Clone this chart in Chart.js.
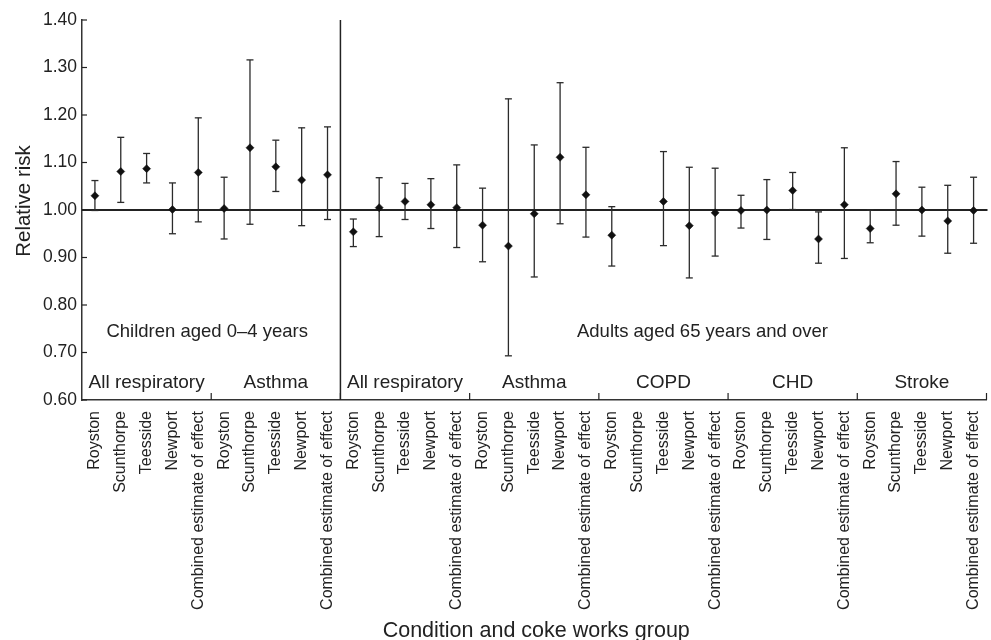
<!DOCTYPE html>
<html><head><meta charset="utf-8">
<script src="https://cdn.jsdelivr.net/npm/chart.js@4"></script>
<style>html,body{margin:0;padding:0;background:#fff}</style>
</head><body>
<canvas id="c" width="991" height="640"></canvas>
<script>
// ---- data ----
const sites = ['Royston', 'Scunthorpe', 'Teesside', 'Newport', 'Combined estimate of effect'];
const groups = ['All respiratory', 'Asthma', 'All respiratory', 'Asthma', 'COPD', 'CHD', 'Stroke'];
const populations = ['Children aged 0\u20134 years', 'Adults aged 65 years and over'];
const populationGroupCounts = [2, 5];
const yTicks = [0.60, 0.70, 0.80, 0.90, 1.00, 1.10, 1.20, 1.30, 1.40];
const refValue = 1.00;

const relativeRisk = [
  1.030, 1.081, 1.087, 1.001, 1.079,
  1.003, 1.131, 1.091, 1.063, 1.074,
  0.954, 1.005, 1.018, 1.011, 1.005,
  0.968, 0.924, 0.992, 1.111, 1.032,
  0.947, null, 1.018, 0.967, 0.994,
  0.999, 1.000, 1.041, 0.939, 1.011,
  0.961, 1.034, 1.000, 0.977, 0.999
];
const lowerCI = [
  0.999, 1.016, 1.057, 0.950, 0.975,
  0.939, 0.970, 1.039, 0.967, 0.980,
  0.923, 0.944, 0.980, 0.961, 0.921,
  0.891, 0.693, 0.859, 0.971, 0.943,
  0.882, null, 0.925, 0.857, 0.903,
  0.962, 0.938, 1.001, 0.888, 0.898,
  0.931, 0.968, 0.945, 0.909, 0.930
];
const upperCI = [
  1.062, 1.153, 1.119, 1.057, 1.194,
  1.069, 1.316, 1.147, 1.173, 1.175,
  0.981, 1.068, 1.056, 1.066, 1.095,
  1.046, 1.234, 1.137, 1.268, 1.132,
  1.007, null, 1.123, 1.090, 1.088,
  1.031, 1.064, 1.079, 0.996, 1.131,
  1.000, 1.102, 1.048, 1.052, 1.069
];

const FONT = '"Liberation Sans", Arial, Helvetica, sans-serif';
const INK = '#222';
const labels = [];
groups.forEach(() => sites.forEach(s => labels.push(s)));

function seg(ctx, x1, y1, x2, y2) { ctx.beginPath(); ctx.moveTo(x1, y1); ctx.lineTo(x2, y2); ctx.stroke(); }

const deco = {
  id: 'deco',
  beforeDatasetsDraw(chart) {
    const { ctx, chartArea: a, scales: { x, y } } = chart;
    const step = x.getPixelForValue(1) - x.getPixelForValue(0);
    ctx.save();
    ctx.strokeStyle = INK;
    // reference line at 1.00
    ctx.lineWidth = 2;
    const yr = y.getPixelForValue(refValue);
    seg(ctx, a.left, yr, a.right + 1, yr);
    // divider between populations
    ctx.lineWidth = 1.5;
    const nFirst = populationGroupCounts[0] * sites.length;
    const xd = x.getPixelForValue(nFirst - 1) + step / 2;
    seg(ctx, xd, a.top, xd, a.bottom);
    // y ticks (inside)
    ctx.lineWidth = 1.2;
    yTicks.forEach(v => { const py = y.getPixelForValue(v); seg(ctx, a.left, py, a.left + 5, py); });
    // group separator ticks
    for (let g = 1; g <= groups.length; g++) {
      const xb = x.getPixelForValue(g * sites.length - 1) + step / 2;
      seg(ctx, xb, a.bottom, xb, a.bottom - 7);
    }
    // error bars
    ctx.lineWidth = 1.3;
    ctx.strokeStyle = '#2b2b2b';
    for (let i = 0; i < labels.length; i++) {
      if (lowerCI[i] == null || upperCI[i] == null) continue;
      const px = x.getPixelForValue(i);
      const pl = y.getPixelForValue(lowerCI[i]);
      const pu = y.getPixelForValue(upperCI[i]);
      seg(ctx, px, pl, px, pu);
      seg(ctx, px - 3.5, pl, px + 3.5, pl);
      seg(ctx, px - 3.5, pu, px + 3.5, pu);
    }
    ctx.restore();
  },
  afterDraw(chart) {
    const { ctx, chartArea: a, scales: { x } } = chart;
    const step = x.getPixelForValue(1) - x.getPixelForValue(0);
    ctx.save();
    ctx.fillStyle = INK;
    ctx.textAlign = 'center';
    ctx.textBaseline = 'middle';
    ctx.font = '19px ' + FONT;
    groups.forEach((g, k) => {
      const cx = (x.getPixelForValue(k * sites.length) + x.getPixelForValue(k * sites.length + sites.length - 1)) / 2;
      ctx.fillText(g, cx, a.bottom - 17);
    });
    ctx.font = '18.5px ' + FONT;
    const nFirst = populationGroupCounts[0] * sites.length;
    const xd = x.getPixelForValue(nFirst - 1) + step / 2;
    ctx.fillText(populations[0], (a.left + xd) / 2 - 4, a.bottom - 68);
    ctx.fillText(populations[1], (xd + a.right) / 2 + 39, a.bottom - 68);
    // axis titles
    ctx.font = '21.5px ' + FONT;
    ctx.textBaseline = 'alphabetic';
    ctx.fillText('Condition and coke works group', (a.left + a.right) / 2 + 2, 637);
    ctx.save();
    ctx.translate(24, 201);
    ctx.rotate(-Math.PI / 2);
    ctx.textBaseline = 'middle';
    ctx.font = '20.5px ' + FONT;
    ctx.fillText('Relative risk', 0, 0);
    ctx.restore();
    ctx.restore();
  }
};

new Chart(document.getElementById('c'), {
  type: 'line',
  data: {
    labels: labels,
    datasets: [{
      data: relativeRisk,
      showLine: false,
      pointStyle: 'rectRot',
      pointRadius: 4,
      pointBackgroundColor: '#111',
      pointBorderColor: '#111',
      pointBorderWidth: 0.5
    }]
  },
  options: {
    responsive: false,
    animation: false,
    devicePixelRatio: 1,
    layout: { padding: { top: 20, right: 2, left: 0, bottom: 0 } },
    plugins: { legend: { display: false }, tooltip: { enabled: false } },
    scales: {
      x: {
        type: 'category',
        offset: true,
        grid: { display: false },
        border: { display: true, color: '#333', width: 1.5 },
        ticks: { autoSkip: false, minRotation: 90, maxRotation: 90, padding: 3, color: INK, font: { family: FONT, size: 16 } },
        afterFit(s) { s.height = 240; s.paddingLeft = 0; s.paddingRight = 0; }
      },
      y: {
        min: 0.6, max: 1.4,
        grid: { display: false },
        border: { display: true, color: '#333', width: 1.5 },
        ticks: { stepSize: 0.1, padding: -3, color: INK, font: { family: FONT, size: 17.5 }, callback: v => v.toFixed(2) },
        afterFit(s) { s.width = 82; }
      }
    }
  },
  plugins: [deco]
});
</script>
</body></html>
